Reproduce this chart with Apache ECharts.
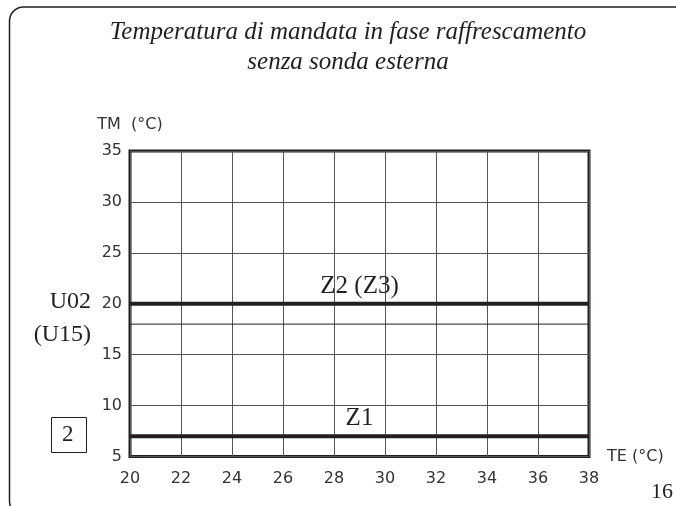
<!DOCTYPE html>
<html><head><meta charset="utf-8">
<script src="https://cdn.jsdelivr.net/npm/echarts@6/dist/echarts.min.js"></script>
<style>html,body{margin:0;padding:0;background:#fff}#c{width:676px;height:506px}</style>
</head><body><div id="c"></div>
<script>
const titleLines = ['Temperatura di mandata in fase raffrescamento', 'senza sonda esterna'];
const xTicks = [20, 22, 24, 26, 28, 30, 32, 34, 36, 38];
const yTicks = [5, 10, 15, 20, 25, 30, 35];
const teRange = [20, 38];
const z2Values = [20, 20, 20];
const z1Values = [7, 7, 7];
const hystValues = [18, 18];
const z2Label = 'Z2 (Z3)';
const z1Label = 'Z1';
const labelX = 29;

const chart = echarts.init(document.getElementById('c'));
const dark = '#231f20';
const serif = '"Liberation Serif", "DejaVu Serif", serif';
const sans = '"DejaVu Sans", sans-serif';

function lineData(vals, xs, labelIdx, label) {
  return vals.map((v, i) => {
    const item = { value: [xs[i], v] };
    if (i === labelIdx) {
      item.label = { show: true, formatter: label, position: 'top', distance: 5,
        fontFamily: serif, fontSize: 25, color: dark };
    }
    return item;
  });
}
const xs3 = [teRange[0], labelX, teRange[1]];

chart.setOption({
  animation: false,
  title: {
    text: titleLines.join('\n'),
    left: 343, top: 12, textAlign: 'center',
    textStyle: { fontFamily: serif, fontStyle: 'italic', fontWeight: 'normal',
      fontSize: 25, lineHeight: 30, color: dark }
  },
  grid: { left: 130, right: 87, top: 151, bottom: 49.5, show: true,
    borderColor: dark, borderWidth: 3, backgroundColor: 'transparent' },
  xAxis: {
    type: 'value', min: xTicks[0], max: xTicks[xTicks.length - 1], interval: 2,
    name: 'TE (°C)', nameLocation: 'end', nameGap: 18,
    nameTextStyle: { fontFamily: sans, fontSize: 16, color: '#333', verticalAlign: 'middle' },
    axisLine: { show: false }, axisTick: { show: false },
    axisLabel: { margin: 14, fontFamily: sans, fontSize: 16, color: '#333' },
    splitLine: { show: true, lineStyle: { color: '#555', width: 1 } }
  },
  yAxis: {
    type: 'value', min: yTicks[0], max: yTicks[yTicks.length - 1], interval: 5,
    name: 'TM  (°C)', nameLocation: 'end', nameGap: 18,
    nameTextStyle: { fontFamily: sans, fontSize: 16, color: '#333' },
    axisLine: { show: false }, axisTick: { show: false },
    axisLabel: { margin: 8, fontFamily: sans, fontSize: 16, color: '#333' },
    splitLine: { show: true, lineStyle: { color: '#555', width: 1 } }
  },
  series: [
    { type: 'line', data: hystValues.map((v, i) => [teRange[i], v]), symbol: 'none',
      lineStyle: { color: dark, width: 1 }, silent: true },
    { type: 'line', name: 'Z2', data: lineData(z2Values, xs3, 1, z2Label),
      symbol: 'circle', symbolSize: 0, showSymbol: true,
      lineStyle: { color: dark, width: 4 }, itemStyle: { color: dark }, silent: true },
    { type: 'line', name: 'Z1', data: lineData(z1Values, xs3, 1, z1Label),
      symbol: 'circle', symbolSize: 0, showSymbol: true,
      lineStyle: { color: dark, width: 4 }, itemStyle: { color: dark }, silent: true }
  ],
  graphic: [
    { type: 'rect', shape: { x: 9.5, y: 7, width: 720, height: 508, r: 14 },
      style: { fill: 'none', stroke: dark, lineWidth: 1.5 }, silent: true },
    { type: 'text', right: 585, top: 290, style: { text: 'U02', font: '24px ' + serif, fill: dark, textAlign: 'right' } },
    { type: 'text', right: 585, top: 323, style: { text: '(U15)', font: '24px ' + serif, fill: dark, textAlign: 'right' } },
    { type: 'rect', shape: { x: 51.5, y: 417.5, width: 35, height: 35 },
      style: { fill: 'none', stroke: dark, lineWidth: 1 } },
    { type: 'text', left: 62, top: 423, style: { text: '2', font: '23px ' + serif, fill: dark } },
    { type: 'text', right: 3, top: 481, style: { text: '16', font: '22px ' + serif, fill: dark } }
  ]
});
</script></body></html>
